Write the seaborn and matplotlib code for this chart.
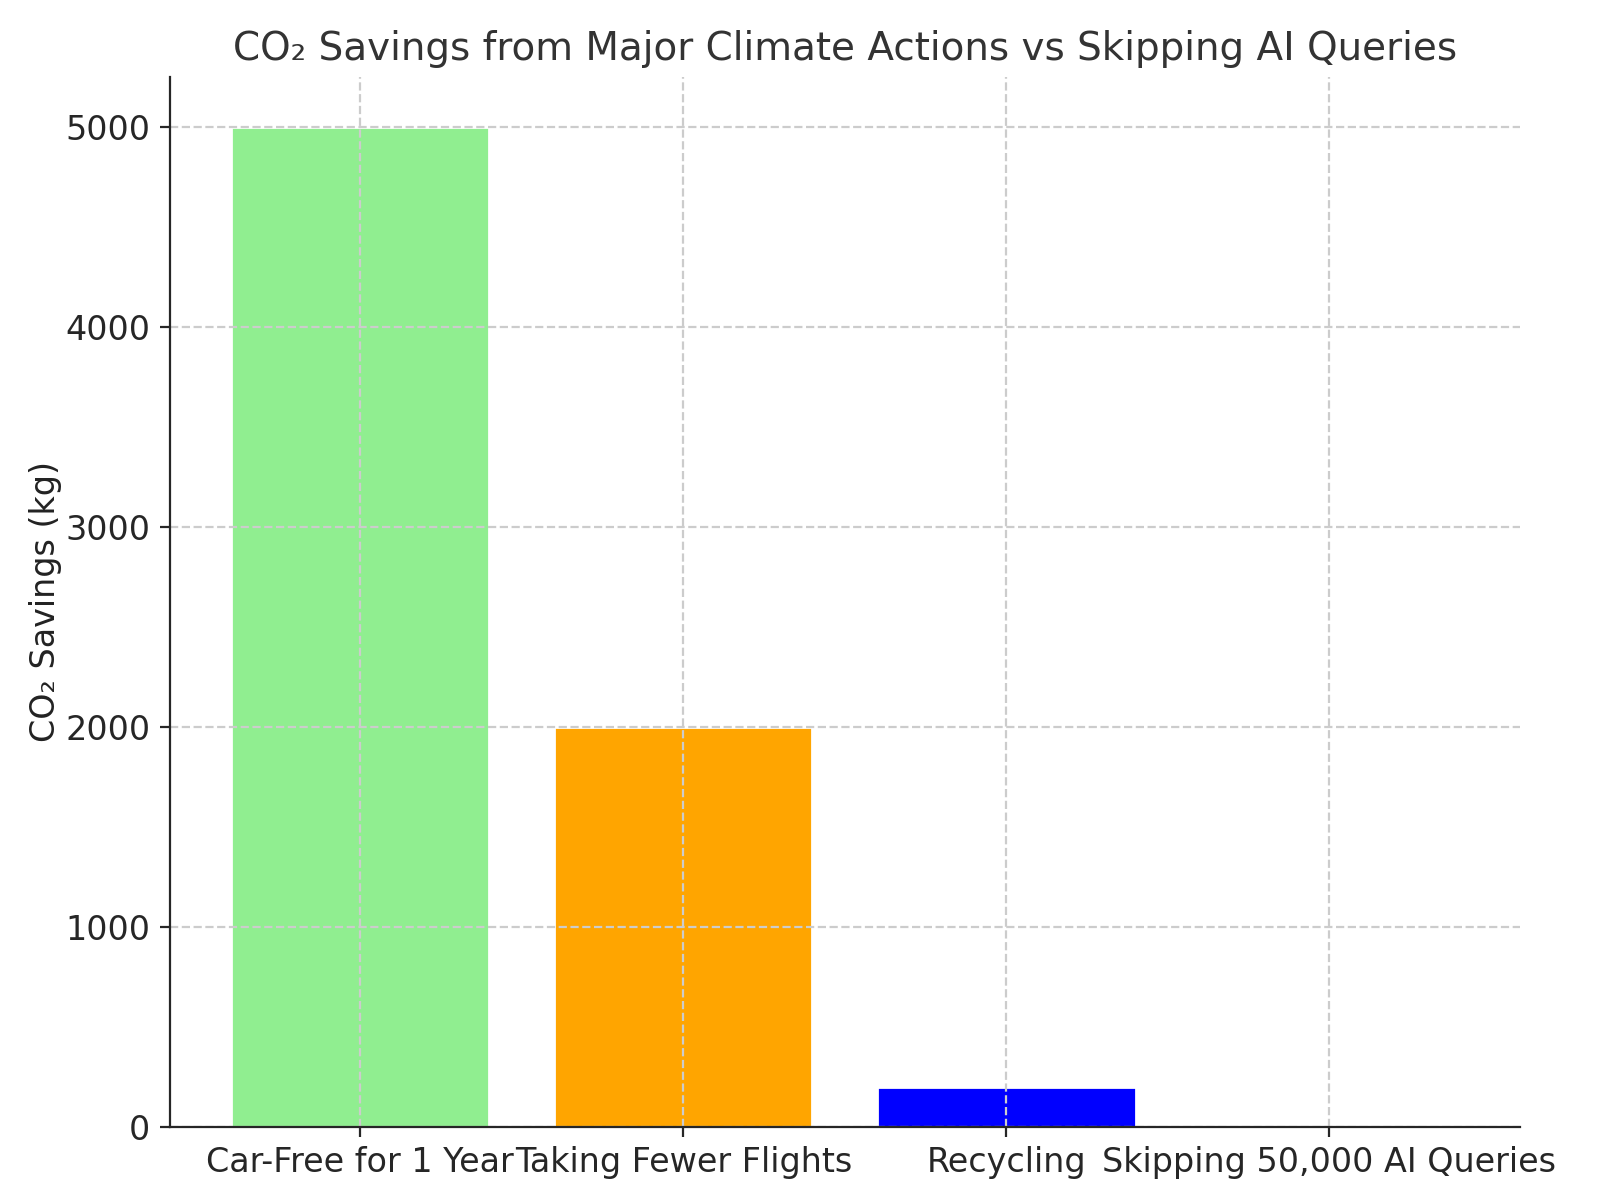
import pandas as pd
import matplotlib.pyplot as plt
import seaborn as sns

actions = ['Car-Free for 1 Year', 'Taking Fewer Flights', 'Recycling', 'Skipping 50,000 AI Queries']
savings_kg = [5000, 2000, 200, 0.5]
bar_colors = ['lightgreen', 'orange', 'blue', 'red']

df = pd.DataFrame({'Action': actions, 'Savings': savings_kg})

sns.set_style('ticks')
plt.rcParams['font.family'] = ['DejaVu Sans']

fig = plt.figure(figsize=(8, 6), dpi=200)
ax = fig.add_axes([0.106, 0.061, 0.844, 0.875])

sns.barplot(x='Action', y='Savings', data=df, hue='Action', palette=bar_colors,
            width=0.8, saturation=1, legend=False, ax=ax)

ax.set_title('CO\u2082 Savings from Major Climate Actions vs Skipping AI Queries',
             fontsize=14, color='#333333')
ax.set_ylabel('CO\u2082 Savings (kg)', fontsize=12, color='#222222', labelpad=1)
ax.set_xlabel('')
ax.tick_params(labelsize=12)
ax.set_ylim(0, 5250)
ax.set_xlim(-0.59, 3.59)
ax.grid(True, linestyle='--', color='#cccccc', linewidth=0.8)
ax.set_axisbelow(False)
sns.despine(ax=ax)
for sp in ax.spines.values():
    sp.set_zorder(5)

fig.savefig('out.png', dpi=200)
